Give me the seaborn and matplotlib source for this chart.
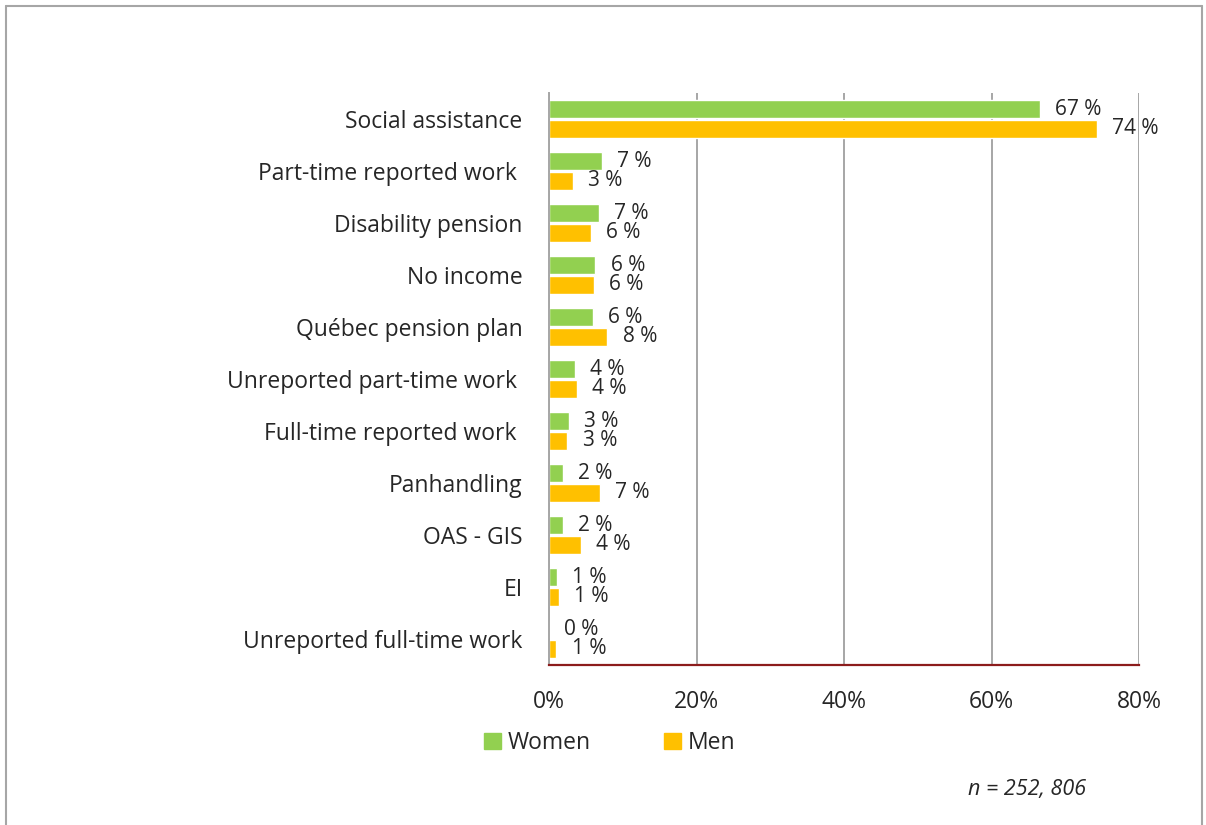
import matplotlib
matplotlib.use("Agg")
import matplotlib.pyplot as plt
import matplotlib.patches as mpatches
from matplotlib.lines import Line2D
import pandas as pd
import seaborn as sns

# Data
categories = ["Social assistance", "Part-time reported work ", "Disability pension",
              "No income", "Québec pension plan", "Unreported part-time work ",
              "Full-time reported work ", "Panhandling", "OAS - GIS", "EI",
              "Unreported full-time work"]
women = [66.6, 7.2, 6.8, 6.3, 5.9, 3.5, 2.7, 1.9, 1.9, 1.1, 0.0]
men = [74.3, 3.2, 5.7, 6.1, 7.9, 3.8, 2.5, 6.9, 4.3, 1.3, 1.0]
women_labels = ["67 %", "7 %", "7 %", "6 %", "6 %", "4 %", "3 %", "2 %", "2 %", "1 %", "0 %"]
men_labels = ["74 %", "3 %", "6 %", "6 %", "8 %", "4 %", "3 %", "7 %", "4 %", "1 %", "1 %"]
groups = ["Women", "Men"]
colors = {"Women": "#92D050", "Men": "#FFC000"}
x_ticks = [0, 20, 40, 60, 80]

df = pd.DataFrame({
    "Source": categories * 2,
    "Group": ["Women"] * len(categories) + ["Men"] * len(categories),
    "Percent": women + men,
})

sns.set_theme(style="white")
plt.rcParams["font.family"] = ["Open Sans", "DejaVu Sans"]
text_col = "#262626"
fs = 16.5

fig = plt.figure(figsize=(12.06, 8.25), dpi=100)
ax = fig.add_axes([549 / 1206, 1 - 665 / 825, (1139 - 549) / 1206, (665 - 93) / 825])

sns.barplot(data=df, y="Source", x="Percent", hue="Group", hue_order=groups,
            palette=colors, orient="h", width=0.75, gap=0.1, saturation=1,
            legend=False, ax=ax)

# value labels, a touch smaller so the two labels of a pair do not collide
ax.bar_label(ax.containers[0], labels=women_labels, padding=11, fontsize=15, color=text_col)
ax.bar_label(ax.containers[1], labels=men_labels, padding=11, fontsize=15, color=text_col)

ax.set_xlim(0, 80)
ax.set_xticks(x_ticks)
ax.set_xticklabels([f"{t}%" for t in x_ticks])
ax.set_xlabel("")
ax.set_ylabel("")
ax.tick_params(axis="x", length=0, pad=18, labelsize=fs, labelcolor=text_col)
ax.tick_params(axis="y", length=0, pad=19, labelsize=fs, labelcolor=text_col)
ax.xaxis.grid(True, color="#A6A6A6", linewidth=1.4)
ax.set_axisbelow(True)

for s in ["top", "right"]:
    ax.spines[s].set_visible(False)
ax.spines["left"].set_color("#A6A6A6")
ax.spines["left"].set_linewidth(1.4)
ax.spines["bottom"].set_color("#8C1C1C")
ax.spines["bottom"].set_linewidth(1.6)

handles = [mpatches.Patch(color=colors[g], label=g) for g in groups]
fig.legend(handles=handles, loc="center left", bbox_to_anchor=(463 / 1206, 1 - 743 / 825),
           ncol=2, frameon=False, fontsize=fs, handlelength=0.75, handleheight=0.75,
           handletextpad=0.3, columnspacing=3.2, labelcolor=text_col)

fig.text(968 / 1206, 1 - 790 / 825, "n = 252, 806", fontsize=15.5, style="italic",
         color=text_col, ha="left", va="center")

# outer chart frame
fc = "#A6A6A6"
top_y = 1 - 6 / 825
lx, rx = 6 / 1206, 1201.5 / 1206
fig.add_artist(Line2D([lx, rx], [top_y, top_y], color=fc, lw=1.5))
fig.add_artist(Line2D([lx, lx], [0, top_y], color=fc, lw=1.5))
fig.add_artist(Line2D([rx, rx], [0, top_y], color=fc, lw=1.5))

fig.savefig("out.png", dpi=100)
